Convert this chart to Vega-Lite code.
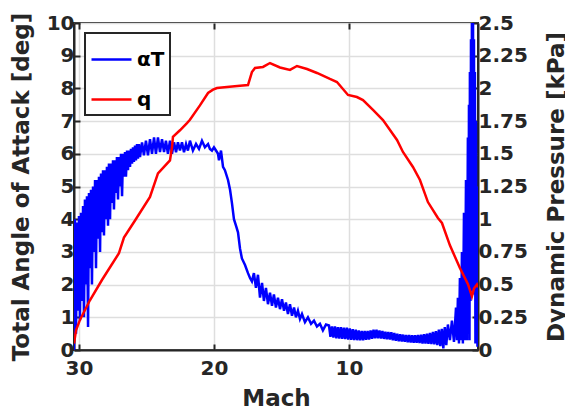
{
  "$schema": "https://vega.github.io/schema/vega-lite/v6.json",
  "width": 404,
  "height": 327,
  "autosize": {"type": "none"},
  "padding": {"left": 74, "top": 23, "right": 87, "bottom": 63},
  "background": "white",
  "config": {
    "font": "DejaVu Sans",
    "view": {"stroke": "#262626", "strokeWidth": 2},
    "axis": {
      "labelFont": "DejaVu Sans", "labelFontWeight": "bold", "labelFontSize": 20, "labelColor": "#262626",
      "titleFont": "DejaVu Sans", "titleFontWeight": "bold", "titleFontSize": 23, "titleColor": "#262626",
      "domainColor": "#262626", "domainWidth": 2, "tickColor": "#262626", "tickWidth": 2, "tickSize": -6,
      "gridColor": "#dedede", "gridWidth": 1.5, "labelPadding": 6
    },
    "legend": {"strokeWidth": 2}
  },
  "datasets": {
    "alpha": [
      {"M":30.37,"a":0.0},{"M":30.30,"a":4.0},{"M":30.22,"a":0.5},{"M":30.15,"a":3.9},{"M":30.07,"a":1.2},{"M":30.00,"a":4.1},
      {"M":29.93,"a":0.9},{"M":29.85,"a":4.2},{"M":29.78,"a":1.5},{"M":29.70,"a":4.4},{"M":29.63,"a":1.0},{"M":29.56,"a":4.6},
      {"M":29.48,"a":2.0},{"M":29.41,"a":4.7},{"M":29.33,"a":0.7},{"M":29.26,"a":4.8},{"M":29.19,"a":2.5},{"M":29.11,"a":4.9},
      {"M":29.04,"a":2.0},{"M":28.96,"a":5.0},{"M":28.89,"a":3.0},{"M":28.81,"a":5.2},{"M":28.74,"a":2.5},{"M":28.67,"a":5.2},
      {"M":28.59,"a":3.4},{"M":28.52,"a":5.3},{"M":28.44,"a":3.0},{"M":28.37,"a":5.4},{"M":28.30,"a":3.6},{"M":28.22,"a":5.5},
      {"M":28.15,"a":3.5},{"M":28.07,"a":5.5},{"M":28.00,"a":4.0},{"M":27.93,"a":5.6},{"M":27.85,"a":3.8},{"M":27.78,"a":5.7},
      {"M":27.70,"a":4.0},{"M":27.63,"a":5.7},{"M":27.56,"a":4.5},{"M":27.48,"a":5.8},{"M":27.41,"a":4.3},{"M":27.33,"a":5.8},
      {"M":27.26,"a":4.8},{"M":27.19,"a":5.9},{"M":27.11,"a":4.6},{"M":27.04,"a":5.9},{"M":26.96,"a":5.0},{"M":26.89,"a":6.0},
      {"M":26.81,"a":4.7},{"M":26.74,"a":6.0},{"M":26.67,"a":5.3},{"M":26.59,"a":6.05},{"M":26.52,"a":5.3},{"M":26.44,"a":6.1},
      {"M":26.37,"a":5.5},{"M":26.30,"a":6.1},{"M":26.22,"a":5.6},{"M":26.15,"a":6.15},{"M":26.07,"a":5.7},{"M":26.00,"a":6.2},
      {"M":25.93,"a":5.75},{"M":25.85,"a":6.25},{"M":25.78,"a":5.8},{"M":25.70,"a":6.3},{"M":25.63,"a":5.85},{"M":25.56,"a":6.3},
      {"M":25.48,"a":5.9},{"M":25.33,"a":6.35},{"M":25.19,"a":5.95},{"M":25.04,"a":6.4},{"M":24.89,"a":5.95},{"M":24.74,"a":6.45},
      {"M":24.59,"a":6.0},{"M":24.44,"a":6.5},{"M":24.30,"a":6.0},{"M":24.15,"a":6.5},{"M":24.00,"a":6.05},{"M":23.85,"a":6.45},
      {"M":23.70,"a":6.05},{"M":23.56,"a":6.4},{"M":23.41,"a":6.0},{"M":23.26,"a":6.4},{"M":23.11,"a":6.0},{"M":22.96,"a":6.35},
      {"M":22.81,"a":6.05},{"M":22.67,"a":6.35},{"M":22.52,"a":6.1},{"M":22.37,"a":6.35},{"M":22.22,"a":6.05},{"M":22.07,"a":6.3},
      {"M":21.93,"a":6.1},{"M":21.78,"a":6.4},{"M":21.56,"a":6.1},{"M":21.33,"a":6.3},{"M":21.11,"a":6.15},{"M":20.89,"a":6.4},
      {"M":20.67,"a":6.2},{"M":20.44,"a":6.3},{"M":20.30,"a":6.15},{"M":20.15,"a":6.1},{"M":20.00,"a":6.2},{"M":19.85,"a":6.1},
      {"M":19.70,"a":6.0},{"M":19.63,"a":5.8},{"M":19.48,"a":6.1},{"M":19.33,"a":5.6},{"M":19.19,"a":5.5},{"M":18.96,"a":5.2},
      {"M":18.81,"a":4.9},{"M":18.67,"a":4.5},{"M":18.52,"a":4.0},{"M":18.37,"a":3.8},{"M":18.22,"a":3.6},{"M":18.07,"a":3.1},
      {"M":17.93,"a":2.8},{"M":17.70,"a":2.6},{"M":17.48,"a":2.35},{"M":17.33,"a":2.2},{"M":17.19,"a":2.1},{"M":17.04,"a":2.35},
      {"M":16.89,"a":1.9},{"M":16.74,"a":2.3},{"M":16.59,"a":1.6},{"M":16.44,"a":2.05},{"M":16.30,"a":1.5},{"M":16.15,"a":1.9},
      {"M":16.00,"a":1.4},{"M":15.85,"a":1.75},{"M":15.70,"a":1.35},{"M":15.56,"a":1.7},{"M":15.41,"a":1.3},{"M":15.26,"a":1.6},
      {"M":15.11,"a":1.25},{"M":14.96,"a":1.55},{"M":14.81,"a":1.2},{"M":14.67,"a":1.45},{"M":14.52,"a":1.1},{"M":14.37,"a":1.4},
      {"M":14.22,"a":1.05},{"M":14.07,"a":1.3},{"M":13.93,"a":1.0},{"M":13.78,"a":1.2},{"M":13.63,"a":0.95},{"M":13.48,"a":1.1},
      {"M":13.26,"a":0.85},{"M":13.04,"a":1.0},{"M":12.81,"a":0.8},{"M":12.59,"a":0.9},{"M":12.37,"a":0.72},{"M":12.15,"a":0.8},
      {"M":11.93,"a":0.6},{"M":11.70,"a":0.78},
      {"M":11.48,"a":0.75},{"M":11.37,"a":0.40},{"M":11.26,"a":0.72},{"M":11.15,"a":0.38},{"M":11.04,"a":0.72},{"M":10.93,"a":0.36},
      {"M":10.82,"a":0.70},{"M":10.71,"a":0.35},{"M":10.60,"a":0.70},{"M":10.49,"a":0.34},{"M":10.38,"a":0.68},{"M":10.27,"a":0.33},
      {"M":10.16,"a":0.68},{"M":10.05,"a":0.32},{"M":9.94,"a":0.66},{"M":9.83,"a":0.31},{"M":9.72,"a":0.64},{"M":9.61,"a":0.30},
      {"M":9.50,"a":0.62},{"M":9.39,"a":0.30},{"M":9.28,"a":0.60},{"M":9.17,"a":0.30},{"M":9.06,"a":0.58},{"M":8.95,"a":0.30},
      {"M":8.84,"a":0.58},{"M":8.73,"a":0.31},{"M":8.62,"a":0.58},{"M":8.51,"a":0.32},{"M":8.40,"a":0.60},{"M":8.29,"a":0.34},
      {"M":8.18,"a":0.62},{"M":8.07,"a":0.36},{"M":7.96,"a":0.62},{"M":7.85,"a":0.36},{"M":7.74,"a":0.60},{"M":7.63,"a":0.35},
      {"M":7.52,"a":0.58},{"M":7.41,"a":0.34},{"M":7.30,"a":0.56},{"M":7.19,"a":0.33},{"M":7.08,"a":0.55},{"M":6.97,"a":0.32},
      {"M":6.86,"a":0.54},{"M":6.75,"a":0.30},{"M":6.64,"a":0.52},{"M":6.53,"a":0.28},{"M":6.42,"a":0.50},{"M":6.31,"a":0.27},
      {"M":6.20,"a":0.48},{"M":6.09,"a":0.26},{"M":5.98,"a":0.47},{"M":5.87,"a":0.25},{"M":5.76,"a":0.46},{"M":5.65,"a":0.24},
      {"M":5.54,"a":0.46},{"M":5.43,"a":0.23},{"M":5.32,"a":0.45},{"M":5.21,"a":0.22},{"M":5.10,"a":0.45},{"M":4.99,"a":0.22},
      {"M":4.88,"a":0.46},{"M":4.77,"a":0.21},{"M":4.66,"a":0.47},{"M":4.55,"a":0.20},{"M":4.44,"a":0.48},{"M":4.33,"a":0.20},
      {"M":4.22,"a":0.50},{"M":4.11,"a":0.19},{"M":4.00,"a":0.52},{"M":3.89,"a":0.18},{"M":3.78,"a":0.55},{"M":3.67,"a":0.17},
      {"M":3.56,"a":0.58},{"M":3.45,"a":0.15},{"M":3.34,"a":0.62},{"M":3.23,"a":0.12},{"M":3.12,"a":0.65},{"M":3.01,"a":0.05},
      {"M":2.90,"a":0.70},{"M":2.79,"a":0.15},{"M":2.67,"a":0.78},
      {"M":2.52,"a":0.3},{"M":2.37,"a":0.9},{"M":2.22,"a":0.25},{"M":2.07,"a":1.3},
      {"M":2.00,"a":0.3},{"M":1.93,"a":1.6},{"M":1.85,"a":0.2},{"M":1.78,"a":2.2},{"M":1.70,"a":0.3},{"M":1.63,"a":3.0},
      {"M":1.56,"a":0.2},{"M":1.48,"a":4.2},{"M":1.41,"a":0.3},{"M":1.33,"a":5.2},{"M":1.26,"a":0.3},{"M":1.19,"a":6.5},
      {"M":1.15,"a":0.6},{"M":1.11,"a":7.5},{"M":1.07,"a":0.3},{"M":1.04,"a":8.5},{"M":1.00,"a":1.5},{"M":0.96,"a":9.5},
      {"M":0.93,"a":1.8},{"M":0.89,"a":10.5},{"M":0.85,"a":1.8},{"M":0.81,"a":11.0},{"M":0.78,"a":1.7},{"M":0.74,"a":9.5},
      {"M":0.70,"a":1.9},{"M":0.67,"a":8.5},{"M":0.63,"a":0.2},{"M":0.59,"a":7.0},{"M":0.56,"a":2.0},{"M":0.52,"a":5.0},
      {"M":0.48,"a":0.1},{"M":0.44,"a":3.0}
    ],
    "q": [
      {"M":30.37,"q":0.05},{"M":30.22,"q":0.15},{"M":29.93,"q":0.23},{"M":29.19,"q":0.38},{"M":28.30,"q":0.535},
      {"M":27.04,"q":0.74},{"M":26.67,"q":0.86},{"M":25.85,"q":0.99},{"M":24.74,"q":1.17},{"M":24.15,"q":1.35},
      {"M":23.26,"q":1.45},{"M":23.11,"q":1.55},{"M":23.04,"q":1.63},{"M":22.52,"q":1.68},{"M":22.0,"q":1.735},
      {"M":21.78,"q":1.76},{"M":21.04,"q":1.87},{"M":20.44,"q":1.965},{"M":20.07,"q":1.99},{"M":19.78,"q":2.003},
      {"M":19.04,"q":2.011},{"M":18.07,"q":2.02},{"M":17.48,"q":2.026},{"M":17.19,"q":2.125},{"M":16.96,"q":2.156},
      {"M":16.37,"q":2.164},{"M":15.85,"q":2.194},{"M":15.11,"q":2.16},{"M":14.37,"q":2.141},{"M":13.85,"q":2.171},
      {"M":13.11,"q":2.148},{"M":12.37,"q":2.118},{"M":11.41,"q":2.072},{"M":10.89,"q":2.049},{"M":10.07,"q":1.95},
      {"M":9.41,"q":1.934},{"M":8.96,"q":1.911},{"M":8.22,"q":1.835},{"M":7.48,"q":1.758},{"M":6.44,"q":1.606},
      {"M":6.0,"q":1.514},{"M":5.26,"q":1.399},{"M":4.74,"q":1.30},{"M":4.15,"q":1.131},{"M":3.41,"q":1.009},
      {"M":3.11,"q":0.971},{"M":2.52,"q":0.80},{"M":1.78,"q":0.627},{"M":1.19,"q":0.505},{"M":0.89,"q":0.41},
      {"M":0.74,"q":0.47},{"M":0.52,"q":0.50},{"M":0.44,"q":0.48}
    ]
  },
  "layer": [
    {
      "data": {"name": "alpha"},
      "mark": {"type": "line", "clip": true, "strokeWidth": 2.5},
      "encoding": {
        "x": {"field": "M", "type": "quantitative",
          "scale": {"domain": [0.44, 30.37], "reverse": true, "nice": false, "zero": false},
          "axis": {"values": [10, 20, 30], "title": "Mach", "grid": true, "labelPadding": 14, "titlePadding": 9, "labelFlush": false}},
        "y": {"field": "a", "type": "quantitative",
          "scale": {"domain": [0, 10], "nice": false},
          "axis": {"values": [0,1,2,3,4,5,6,7,8,9,10], "title": "Total Angle of Attack [deg]", "grid": true, "titlePadding": 13}},
        "color": {"datum": "αT", "type": "nominal",
          "scale": {"domain": ["αT", "q"], "range": ["#0000ff", "#ff0000"]},
          "legend": {"orient": "none", "legendX": 11, "legendY": 10, "title": null, "symbolType": "stroke",
            "symbolSize": 1600, "symbolStrokeWidth": 2.5, "labelFontSize": 20, "labelFontWeight": "bold",
            "labelFont": "DejaVu Sans", "labelColor": "#000000", "strokeColor": "#262626", "fillColor": "white",
            "padding": 5, "rowPadding": 8, "labelOffset": 4}}
      }
    },
    {
      "data": {"name": "q"},
      "mark": {"type": "line", "clip": true, "strokeWidth": 2.5},
      "encoding": {
        "x": {"field": "M", "type": "quantitative",
          "axis": {"orient": "top", "values": [10, 20, 30], "labels": false, "title": null, "grid": false, "domain": false}},
        "y": {"field": "q", "type": "quantitative",
          "scale": {"domain": [0, 2.5], "nice": false},
          "axis": {"orient": "right", "values": [0,0.25,0.5,0.75,1,1.25,1.5,1.75,2,2.25,2.5], "format": ".3~g",
            "title": "Dynamic Pressure [kPa]", "titleAngle": -90, "titleBaseline": "top", "grid": false, "titlePadding": 18}},
        "color": {"datum": "q", "type": "nominal"}
      }
    }
  ],
  "resolve": {"scale": {"y": "independent"}, "axis": {"x": "independent"}}
}
